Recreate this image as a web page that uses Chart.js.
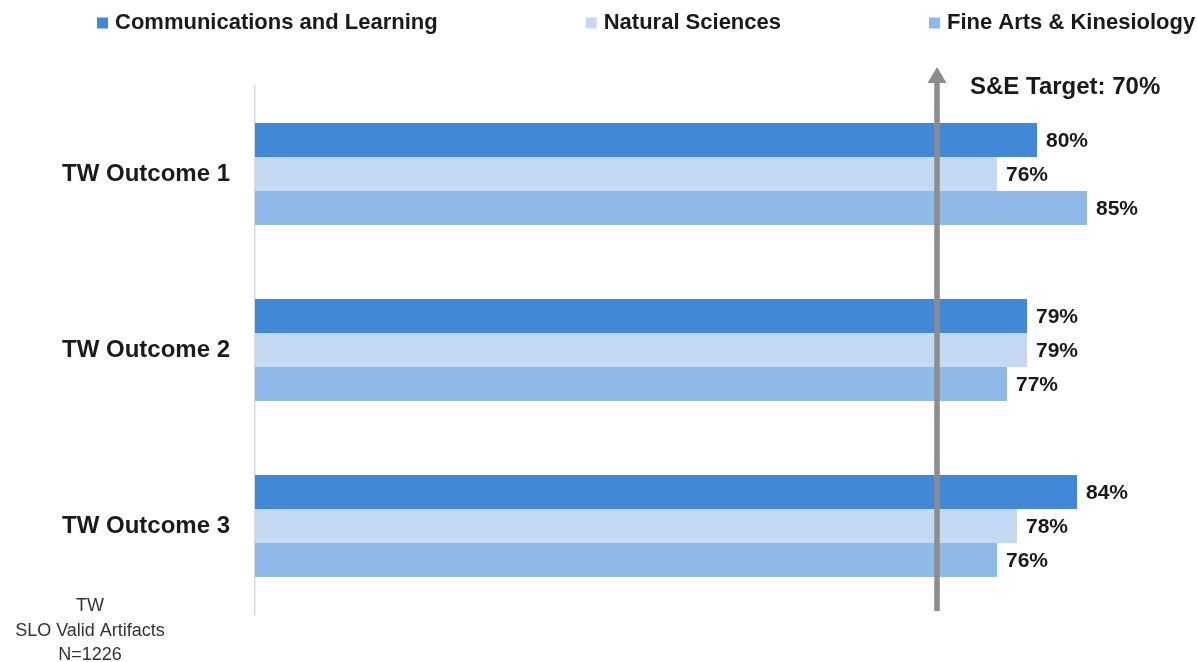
<!DOCTYPE html>
<html>
<head>
<meta charset="utf-8">
<script src="https://cdn.jsdelivr.net/npm/chart.js@4/dist/chart.umd.min.js"></script>
<style>
  html, body { margin: 0; padding: 0; background: #ffffff; }
  #wrap { position: relative; width: 1197px; height: 662px; }
</style>
</head>
<body>
<div id="wrap"><canvas id="chart"></canvas></div>
<script>
// Outcome categories and the share of artifacts meeting each outcome (%)
const categories = ['TW Outcome 1', 'TW Outcome 2', 'TW Outcome 3'];
const seriesNames = ['Communications and Learning', 'Natural Sciences', 'Fine Arts & Kinesiology'];
const communicationsLearning = [80, 79, 84];
const naturalSciences = [76, 79, 78];
const fineArtsKinesiology = [85, 77, 76];
const seriesColors = ['#4189d8', '#c4d9f1', '#8fb9e6'];
const targetValue = 70;
const targetLabel = 'S&E Target: 70%';
const footnoteLines = ['TW', 'SLO Valid Artifacts', 'N=1226'];

const FONT = '"Liberation Sans", Arial, Helvetica, sans-serif';
const TEXT = '#1a1a1a';

// Legend row across the top
const topLegend = {
  id: 'topLegend',
  afterDraw(chart) {
    const ctx = chart.ctx;
    ctx.save();
    ctx.font = 'bold 22px ' + FONT;
    ctx.textBaseline = 'middle';
    ctx.textAlign = 'left';
    let x = 97;
    const y = 23;
    chart.data.datasets.forEach(ds => {
      ctx.fillStyle = ds.backgroundColor;
      ctx.fillRect(x, y - 5.5, 11, 11);
      ctx.fillStyle = TEXT;
      ctx.fillText(ds.label, x + 18, y);
      x += 18 + ctx.measureText(ds.label).width + 148;
    });
    ctx.restore();
  }
};

// Value labels at the end of each bar
const barValueLabels = {
  id: 'barValueLabels',
  afterDatasetsDraw(chart) {
    const ctx = chart.ctx;
    ctx.save();
    ctx.font = 'bold 21px ' + FONT;
    ctx.fillStyle = TEXT;
    ctx.textAlign = 'left';
    ctx.textBaseline = 'middle';
    chart.data.datasets.forEach((ds, i) => {
      const meta = chart.getDatasetMeta(i);
      meta.data.forEach((bar, j) => {
        ctx.fillText(ds.data[j] + '%', bar.x + 9, bar.y + 1);
      });
    });
    ctx.restore();
  }
};

// Vertical target arrow with its caption
const targetArrow = {
  id: 'targetArrow',
  afterDatasetsDraw(chart) {
    const ctx = chart.ctx;
    const xs = chart.scales.x;
    const area = chart.chartArea;
    const x = xs.getPixelForValue(targetValue);
    const tipY = 67;
    const headH = 16;
    ctx.save();
    ctx.strokeStyle = '#8c8c8c';
    ctx.fillStyle = '#8c8c8c';
    ctx.lineWidth = 5.5;
    ctx.beginPath();
    ctx.moveTo(x, area.bottom - 3);
    ctx.lineTo(x, tipY + headH - 1);
    ctx.stroke();
    ctx.beginPath();
    ctx.moveTo(x, tipY);
    ctx.lineTo(x - 9.5, tipY + headH);
    ctx.lineTo(x + 9.5, tipY + headH);
    ctx.closePath();
    ctx.fill();
    ctx.font = 'bold 24px ' + FONT;
    ctx.fillStyle = TEXT;
    ctx.textAlign = 'left';
    ctx.textBaseline = 'middle';
    ctx.fillText(targetLabel, x + 33, 87);
    ctx.restore();
  }
};

// Sample-size note under the category labels
const footnote = {
  id: 'footnote',
  afterDraw(chart) {
    const ctx = chart.ctx;
    ctx.save();
    ctx.font = '18px ' + FONT;
    ctx.fillStyle = '#333333';
    ctx.textAlign = 'center';
    ctx.textBaseline = 'middle';
    const ys = [606, 631, 655];
    footnoteLines.forEach((line, i) => ctx.fillText(line, 90, ys[i]));
    ctx.restore();
  }
};

const seriesData = [communicationsLearning, naturalSciences, fineArtsKinesiology];

new Chart(document.getElementById('chart'), {
  type: 'bar',
  data: {
    labels: categories,
    datasets: seriesNames.map((name, i) => ({
      label: name,
      data: seriesData[i],
      backgroundColor: seriesColors[i],
      borderWidth: 0,
      categoryPercentage: 0.58,
      barPercentage: 1.0
    }))
  },
  options: {
    indexAxis: 'y',
    responsive: true,
    maintainAspectRatio: false,
    animation: false,
    devicePixelRatio: 1,
    layout: { padding: { top: 86, bottom: 48, left: 0, right: 0 } },
    plugins: {
      legend: { display: false },
      tooltip: { enabled: false },
      title: { display: false }
    },
    scales: {
      x: {
        display: false,
        min: 1.8,
        max: 96
      },
      y: {
        grid: { display: false, drawTicks: false },
        border: { display: true, color: '#d9d9d9', width: 1.5 },
        ticks: {
          color: TEXT,
          font: { family: FONT, size: 24, weight: 'bold' },
          padding: 25
        },
        afterFit(scale) { scale.width = 255; }
      }
    }
  },
  plugins: [topLegend, barValueLabels, targetArrow, footnote]
});
</script>
</body>
</html>
